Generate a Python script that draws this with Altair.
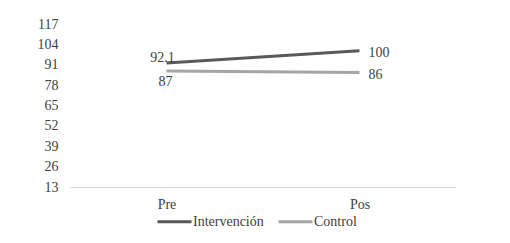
import altair as alt
import pandas as pd

periods = ["Pre", "Pos"]
intervencion = [92.1, 100]
control = [87, 86]
series_names = ["Intervención", "Control"]
colors = ["#595959", "#A5A5A5"]
y_ticks = [13, 26, 39, 52, 65, 78, 91, 104, 117]
label_texts_int = ["92.1", "100"]
label_texts_ctl = ["87", "86"]

rows = []
for i, p in enumerate(periods):
    rows.append({"periodo": p, "serie": series_names[0], "valor": intervencion[i], "etiqueta": label_texts_int[i]})
    rows.append({"periodo": p, "serie": series_names[1], "valor": control[i], "etiqueta": label_texts_ctl[i]})
df = pd.DataFrame(rows)

FONT = "'Times New Roman', 'Liberation Serif', Tinos, serif"
FS = 14

x_enc = alt.X("periodo:N", sort=periods, title=None,
              scale=alt.Scale(paddingInner=0, paddingOuter=0),
              axis=alt.Axis(labelAngle=0, ticks=False, domainColor="#D9D9D9", domainWidth=1,
                            labelPadding=10, labelFont=FONT, labelFontSize=FS, labelColor="#404040"))
y_enc = alt.Y("valor:Q", title=None,
              scale=alt.Scale(domain=[13, 117], nice=False, zero=False),
              axis=alt.Axis(values=y_ticks, domain=False, ticks=False, grid=False,
                            labelPadding=12, labelFont=FONT, labelFontSize=FS, labelColor="#404040"))

color_enc = alt.Color("serie:N", sort=series_names,
                      scale=alt.Scale(domain=series_names, range=colors),
                      legend=alt.Legend(title=None, orient="none", direction="horizontal",
                                        legendX=86, legendY=179,
                                        symbolType="stroke", symbolStrokeWidth=3, symbolSize=1156,
                                        labelFont=FONT, labelFontSize=FS, labelColor="#404040",
                                        columnPadding=8, labelOffset=0))

base = alt.Chart(df)

lines = base.mark_line(strokeWidth=3).encode(x=x_enc, y=y_enc, color=color_enc)

txt_kw = dict(font=FONT, fontSize=FS, color="#404040")
pre_int = base.transform_filter((alt.datum.periodo == "Pre") & (alt.datum.serie == series_names[0])).mark_text(
    align="center", baseline="alphabetic", dx=-4, dy=-1, **txt_kw).encode(x=x_enc, y=y_enc, text="etiqueta:N")
pre_ctl = base.transform_filter((alt.datum.periodo == "Pre") & (alt.datum.serie == series_names[1])).mark_text(
    align="center", baseline="top", dx=-1, dy=4, **txt_kw).encode(x=x_enc, y=y_enc, text="etiqueta:N")
pos_lab = base.transform_filter(alt.datum.periodo == "Pos").mark_text(
    align="left", baseline="middle", dx=9, dy=2, **txt_kw).encode(x=x_enc, y=y_enc, text="etiqueta:N")

chart = alt.layer(lines, pre_int, pre_ctl, pos_lab).properties(
    width=386, height=163,
    padding={"left": 70, "top": 24, "right": 54, "bottom": 56},
    autosize=alt.AutoSizeParams(type="none"),
    background="white",
).configure_view(stroke=None)

chart.save("out.html", embed_options={"renderer": "svg", "actions": False})
